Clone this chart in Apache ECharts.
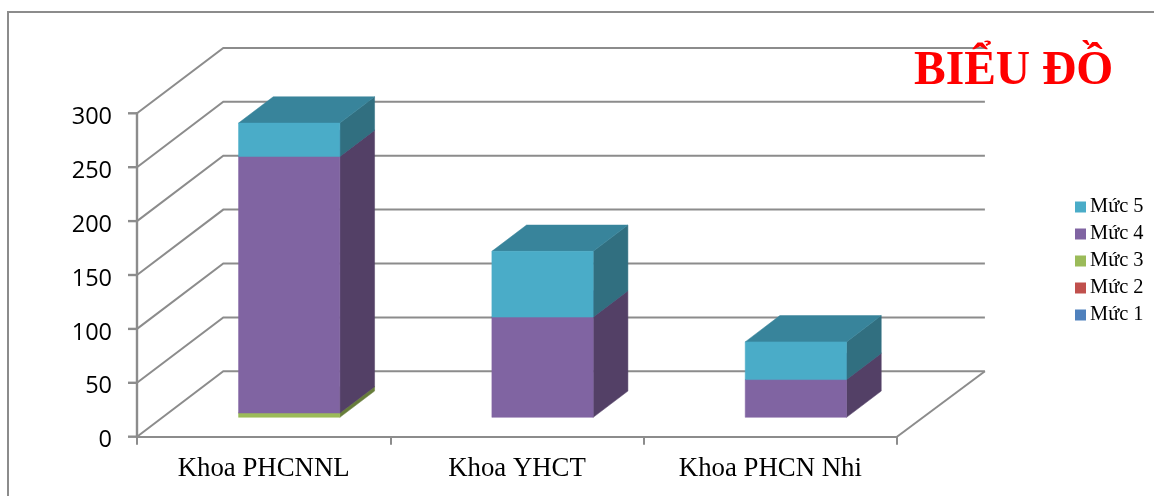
<!DOCTYPE html>
<html>
<head>
<meta charset="utf-8">
<style>html,body{margin:0;padding:0;background:#fff;overflow:hidden}#c{width:1154px;height:496px}</style>
<script src="https://cdn.jsdelivr.net/npm/echarts@6/dist/echarts.min.js"></script>
</head>
<body>
<div id="c"></div>
<script>
const categories = ['Khoa PHCNNL', 'Khoa YHCT', 'Khoa PHCN Nhi'];
const muc1 = [0, 0, 0];
const muc2 = [0, 0, 0];
const muc3 = [4, 0, 0];
const muc4 = [238, 93, 35];
const muc5 = [31, 61, 35];
const yTicks = [0, 50, 100, 150, 200, 250, 300];

const seriesDefs = [
  {name: 'Mức 1', values: muc1, front: '#4f81bd', side: '#35567e', top: '#3f6797'},
  {name: 'Mức 2', values: muc2, front: '#c0504d', side: '#803533', top: '#99403d'},
  {name: 'Mức 3', values: muc3, front: '#9bbb59', side: '#677d3b', top: '#7c9547'},
  {name: 'Mức 4', values: muc4, front: '#8064a2', side: '#534066', top: '#665081'},
  {name: 'Mức 5', values: muc5, front: '#4aacc8', side: '#316f80', top: '#38849b'}
];

const WALL_DX = 86.3, WALL_DY = -65.4;   // projected depth of the chart box
const WALL_RIGHT_EXTRA = 1.6;
const BAR_START = 0.296, BAR_DEPTH = 0.402; // bar position inside the depth
const LINE = '#8c8c8c';
const LINE_W = 2;
const AXIS_W = 2.4;
const Y_TICK_LEN = 9;

function wallItem(params, api) {
  const cs = params.coordSys;
  const v = api.value(0);
  const y = api.coord([0, v])[1];
  const x0 = cs.x, x1 = cs.x + cs.width;
  const xEnd = x1 + WALL_DX + WALL_RIGHT_EXTRA;
  const children = [
    {type: 'polyline', shape: {points: [[x0, y], [x0 + WALL_DX, y + WALL_DY], [xEnd, y + WALL_DY]]}, style: {stroke: LINE, lineWidth: LINE_W, fill: null}},
    {type: 'rect', shape: {x: x0 - Y_TICK_LEN, y: y - AXIS_W / 2, width: Y_TICK_LEN, height: AXIS_W}, style: {fill: LINE}}
  ];
  if (v === 0) {
    const yTop = api.coord([0, yTicks[yTicks.length - 1]])[1];
    children.push({type: 'polyline', shape: {points: [[x1, y], [xEnd, y + WALL_DY]]}, style: {stroke: LINE, lineWidth: LINE_W, fill: null}});
    children.push({type: 'rect', shape: {x: x0 - AXIS_W / 2, y: yTop - AXIS_W / 2, width: AXIS_W, height: y - yTop + AXIS_W}, style: {fill: LINE}});
  }
  return {type: 'group', children};
}

function face(points, fill) {
  return {type: 'polygon', shape: {points}, style: {fill, stroke: fill, lineWidth: 0.5}};
}

function barRenderer(def) {
  return function (params, api) {
    const cat = api.value(0), base = api.value(1), val = api.value(2);
    if (!val) return null;
    const bw = api.size([1, 0])[0] * 0.4;
    const pb = api.coord([cat, base]);
    const pt = api.coord([cat, base + val]);
    const ox = WALL_DX * BAR_START, oy = WALL_DY * BAR_START;
    const dx = WALL_DX * BAR_DEPTH, dy = WALL_DY * BAR_DEPTH;
    const l = pb[0] - bw / 2 + ox, r = pb[0] + bw / 2 + ox;
    const yb = pb[1] + oy, yt = pt[1] + oy;
    return {type: 'group', children: [
      face([[r, yb], [r + dx, yb + dy], [r + dx, yt + dy], [r, yt]], def.side),
      face([[l, yt], [r, yt], [r + dx, yt + dy], [l + dx, yt + dy]], def.top),
      face([[l, yb], [r, yb], [r, yt], [l, yt]], def.front)
    ]};
  };
}

const running = categories.map(() => 0);
const barSeries = seriesDefs.map(def => {
  const data = def.values.map((v, i) => {
    const row = [i, running[i], v];
    running[i] += v;
    return row;
  });
  return {
    name: def.name, type: 'custom', coordinateSystem: 'cartesian2d',
    itemStyle: {color: def.front}, silent: true, clip: false,
    encode: {x: 0, y: 2}, data, renderItem: barRenderer(def)
  };
});

const chart = echarts.init(document.getElementById('c'), null, {renderer: 'canvas'});
chart.setOption({
  animation: false,
  backgroundColor: '#fff',
  title: {
    text: 'BIỂU ĐỒ', left: 914, top: 48,
    textStyle: {color: '#ff0000', fontFamily: 'Liberation Serif', fontWeight: 'bold', fontSize: 47.5}, padding: 0
  },
  legend: {
    orient: 'vertical', left: 1075, top: 197, padding: 0,
    data: ['Mức 5', 'Mức 4', 'Mức 3', 'Mức 2', 'Mức 1'],
    icon: 'rect', itemWidth: 11, itemHeight: 11, itemGap: 7,
    textStyle: {fontFamily: 'Liberation Serif', fontSize: 20.4, color: '#000', padding: [0, 0, 0, -1]}
  },
  grid: {left: 137, top: 113.3, width: 760, height: 323.4, containLabel: false},
  xAxis: {
    type: 'category', data: categories, position: 'bottom',
    axisLine: {show: true, onZero: false, lineStyle: {color: LINE, width: LINE_W}},
    axisTick: {show: true, alignWithLabel: false, interval: 0, length: 8, lineStyle: {color: LINE, width: LINE_W}},
    axisLabel: {fontFamily: 'Liberation Serif', fontSize: 26.8, color: '#000', margin: 19}
  },
  yAxis: {
    type: 'value', min: 0, max: 300, interval: 50, position: 'left',
    axisLine: {show: false},
    axisTick: {show: false},
    axisLabel: {fontFamily: 'Open Sans', fontSize: 23.5, color: '#000', margin: 25, verticalAlign: 'top', lineHeight: 8},
    splitLine: {show: false}
  },
  graphic: [{
    type: 'polyline', silent: true, z: 0,
    shape: {points: [[8, 496], [8, 12], [1154, 12]]},
    style: {stroke: LINE, lineWidth: LINE_W, fill: null}
  }],
  series: [{
    name: 'walls', type: 'custom', coordinateSystem: 'cartesian2d', silent: true, clip: false, z: 1,
    encode: {y: 0}, data: yTicks.map(v => [v]), renderItem: wallItem
  }].concat(barSeries)
});
</script>
</body>
</html>
